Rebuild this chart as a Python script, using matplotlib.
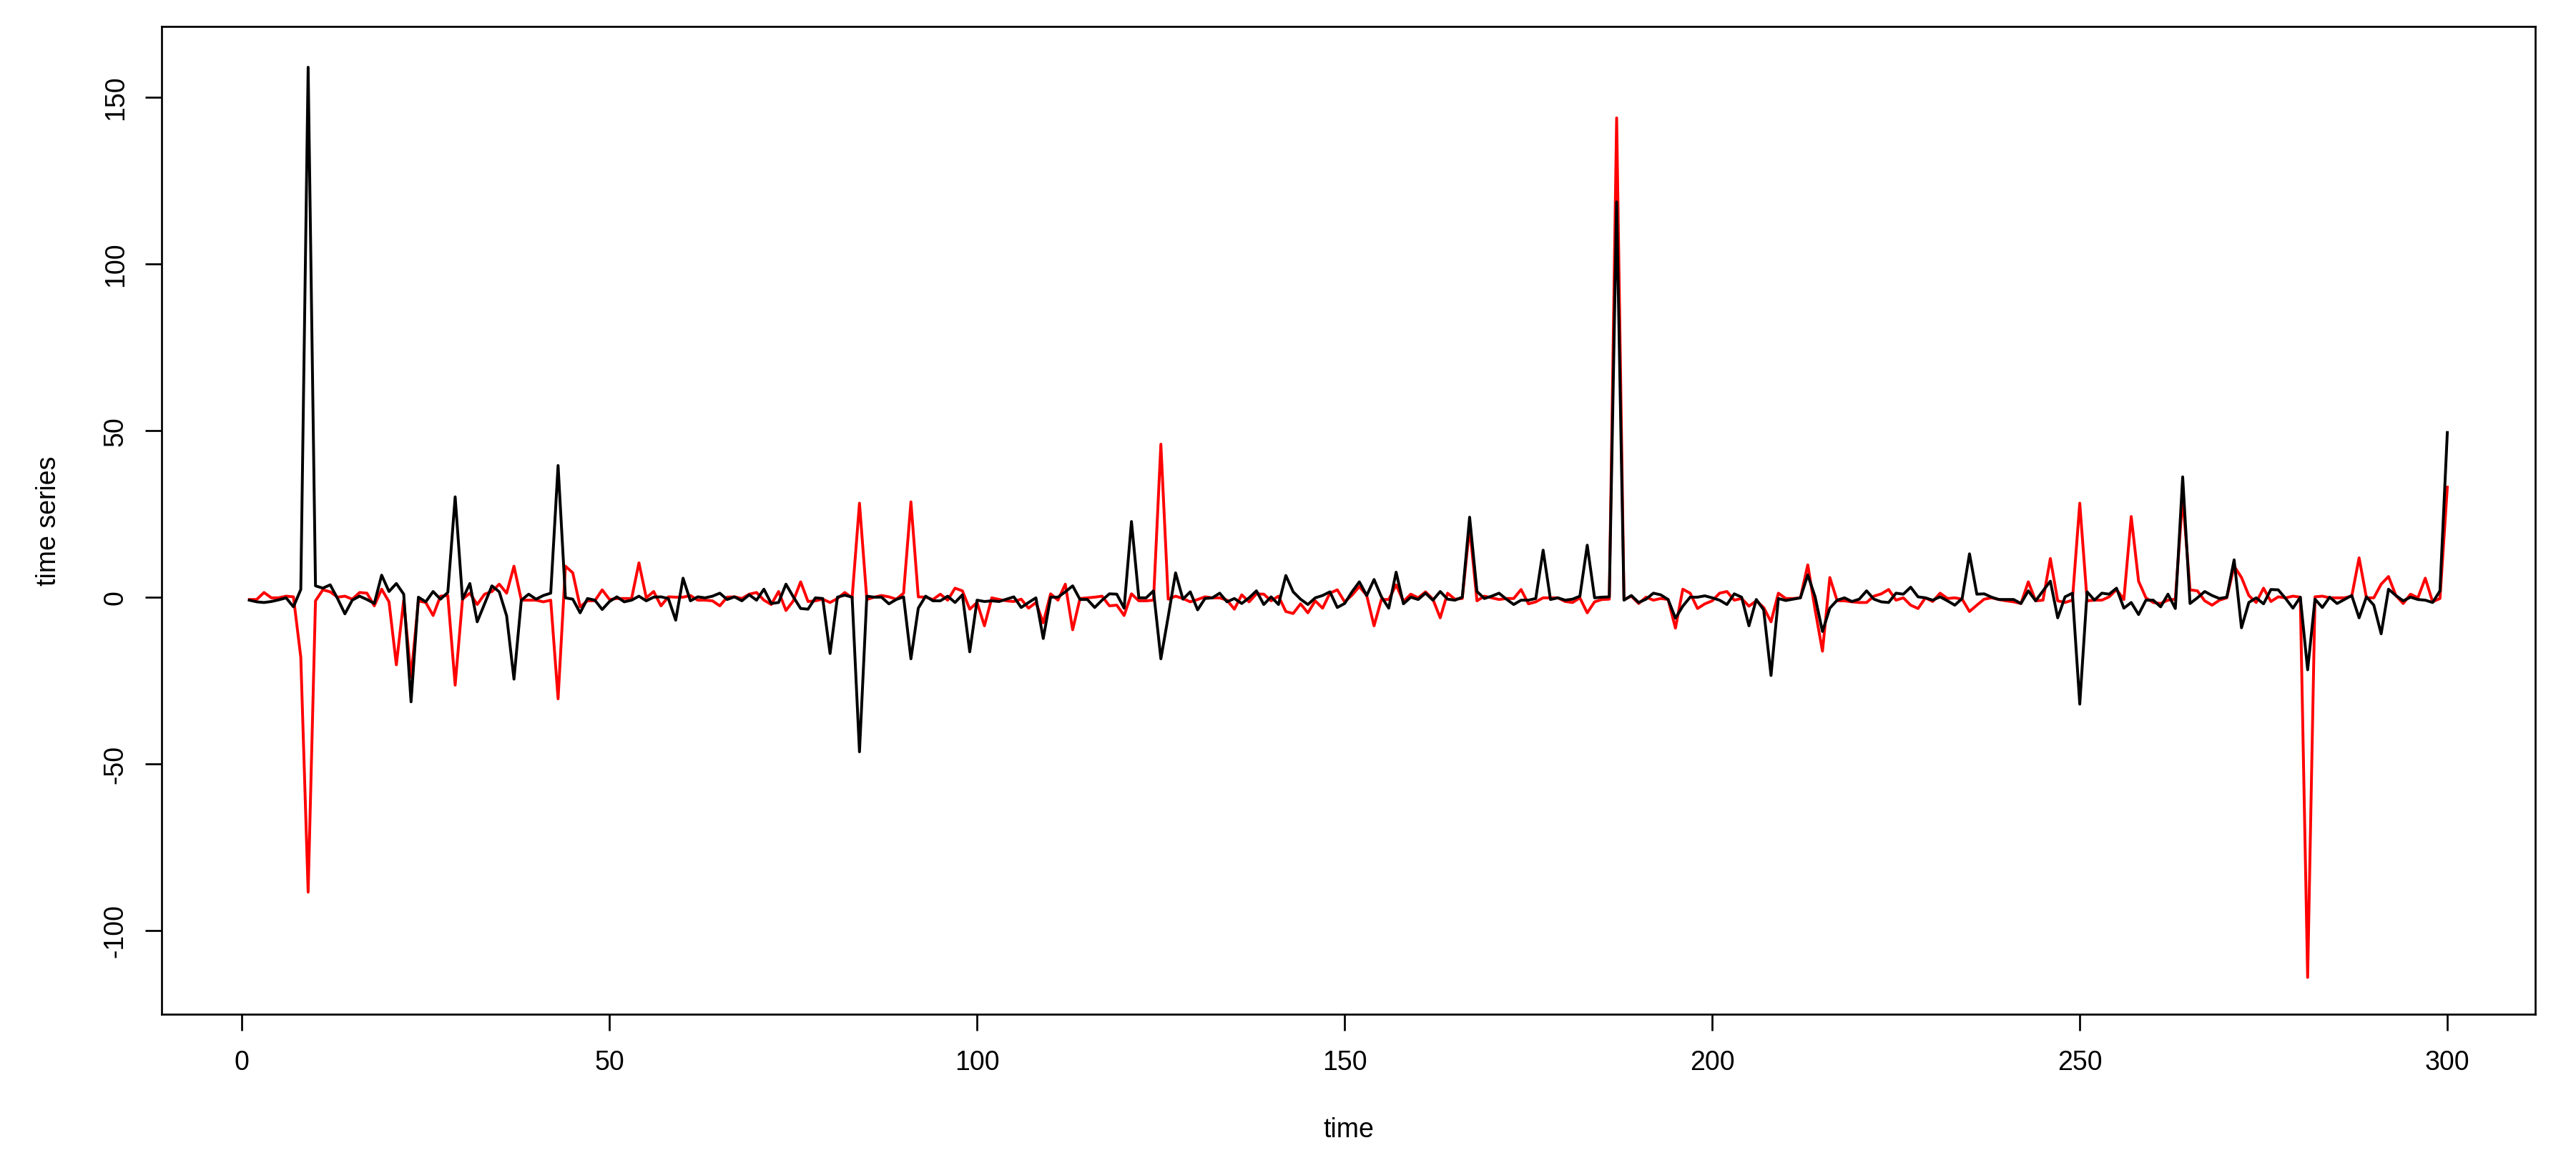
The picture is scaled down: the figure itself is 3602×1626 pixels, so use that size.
import matplotlib
matplotlib.use("Agg")
import matplotlib.pyplot as plt
import numpy as np

time = list(range(1, 301))

black_series = [
    -0.9, -1.4, -1.6, -1.3, -0.8, -0.2, -2.9, 2.3, 159.0, 3.4,
    2.7, 3.7, -0.4, -5.0, -0.9, 0.3, -0.7, -1.9, 6.6, 1.7,
    4.1, 0.9, -31.4, 0.0, -1.4, 1.7, -0.6, 1.4, 30.1, -0.6,
    4.1, -7.4, -2.0, 3.4, 1.6, -5.6, -24.6, -0.9, 0.9, -0.6,
    0.5, 1.2, 39.5, -0.2, -0.6, -4.7, -0.4, -0.9, -3.7, -1.3,
    0.1, -1.4, -0.9, 0.3, -1.1, 0.0, 0.1, -0.4, -6.9, 5.7,
    -1.1, 0.1, -0.2, 0.3, 1.2, -0.7, 0.1, -1.1, 0.7, -0.9,
    2.4, -1.9, -1.6, 3.9, 0.1, -3.4, -3.6, -0.2, -0.4, -16.9,
    0.0, 0.6, 0.0, -46.4, 0.3, 0.0, 0.0, -2.0, -0.7, 0.1,
    -18.5, -3.3, 0.3, -1.1, -1.1, 0.3, -1.6, 0.7, -16.4, -0.9,
    -1.3, -1.1, -1.3, -0.6, 0.1, -3.1, -1.6, -0.2, -12.4, 0.0,
    0.0, 1.6, 3.4, -0.7, -0.7, -3.1, -0.9, 1.0, 0.9, -3.3,
    22.7, -0.2, -0.2, 1.9, -18.5, -5.8, 7.3, -0.6, 1.6, -3.8,
    -0.4, -0.2, 1.2, -1.4, -0.4, -1.9, -0.2, 1.9, -2.2, 0.1,
    -2.2, 6.5, 1.6, -0.6, -2.2, -0.2, 0.5, 1.6, -3.1, -1.9,
    1.6, 4.6, 0.5, 5.3, 0.1, -3.3, 7.5, -2.0, 0.0, -0.7,
    1.2, -0.9, 1.7, -0.6, -0.9, 0.0, 24.0, 1.7, -0.4, 0.3,
    1.2, -0.6, -2.2, -0.9, -0.9, -0.4, 14.1, -0.7, -0.2, -0.9,
    -0.6, 0.3, 15.6, -0.2, 0.0, 0.1, 118.6, -0.9, 0.5, -1.6,
    -0.6, 1.2, 0.7, -0.7, -6.3, -2.7, 0.0, 0.0, 0.4, -0.2,
    -0.9, -2.2, 1.0, 0.0, -8.6, -0.7, -3.8, -23.5, -0.4, -1.0,
    -0.6, -0.2, 6.7, 0.1, -10.3, -3.3, -0.9, -0.2, -1.3, -0.6,
    1.9, -0.6, -1.4, -1.6, 1.2, 0.9, 3.0, 0.1, -0.2, -0.9,
    0.1, -1.1, -2.4, -0.4, 13.0, 0.9, 1.0, 0.0, -0.7, -0.7,
    -0.7, -1.9, 1.9, -1.1, 1.9, 4.8, -6.2, 0.1, 1.2, -32.1,
    1.6, -0.9, 1.2, 0.9, 2.7, -3.3, -1.6, -5.2, -0.9, -0.9,
    -2.9, 0.9, -3.4, 36.1, -1.9, -0.2, 1.7, 0.5, -0.4, 0.0,
    11.2, -9.2, -1.6, -0.2, -2.0, 2.3, 2.2, -0.4, -3.3, 0.0,
    -21.8, -0.6, -3.1, 0.0, -1.9, -0.7, 0.5, -6.2, 0.1, -2.4,
    -11.0, 2.4, 0.5, -1.1, 0.0, -0.7, -0.9, -1.6, 1.9, 49.4,
]

red_series = [
    -0.7, -0.7, 1.4, -0.2, -0.2, 0.3, 0.1, -18.0, -88.5, -1.1,
    2.2, 1.6, 0.0, 0.3, -0.6, 1.4, 1.2, -2.6, 2.4, -1.4,
    -20.3, -0.9, -24.0, -1.1, -1.6, -5.5, 0.3, 0.5, -26.4, -0.6,
    1.2, -2.2, 0.9, 1.7, 3.9, 1.2, 9.3, -0.9, -0.9, -0.9,
    -1.4, -0.9, -30.5, 9.3, 7.3, -2.9, -1.1, -1.1, 2.2, -0.7,
    -0.4, -0.4, -0.4, 10.3, -0.2, 1.7, -2.6, 0.1, 0.0, 0.0,
    0.5, -0.9, -0.9, -1.1, -2.6, 0.0, 0.1, -0.4, 0.9, 1.4,
    -0.9, -2.2, 1.7, -4.0, -1.1, 4.6, -1.3, -1.1, -0.6, -1.6,
    -0.4, 1.4, -0.2, 28.2, -0.7, 0.0, 0.5, 0.1, -0.6, 1.2,
    28.6, 0.1, 0.0, -0.7, 0.9, -0.9, 2.7, 1.9, -3.6, -1.6,
    -8.6, -0.2, -0.7, -1.1, -1.3, -0.6, -3.3, -1.6, -7.7, 1.0,
    -0.9, 3.9, -9.8, -0.4, -0.2, 0.0, 0.3, -2.6, -2.4, -5.5,
    1.0, -1.1, -1.1, -0.9, 45.9, -0.6, 0.3, -0.4, -1.4, -0.7,
    0.1, -0.2, -0.2, -0.9, -3.6, 0.7, -1.4, 1.0, 0.9, -1.1,
    0.3, -4.3, -4.9, -2.0, -4.7, -1.1, -3.3, 1.2, 2.2, -1.4,
    0.6, 3.2, 0.5, -8.6, -0.7, -0.7, 3.7, -1.3, 0.9, -0.2,
    1.6, -0.6, -6.2, 1.2, -0.6, -0.4, 21.0, -1.1, 0.3, -0.2,
    -0.7, -0.4, -0.4, 2.3, -2.0, -1.4, -0.2, -0.2, -0.2, -1.3,
    -1.6, -0.2, -4.7, -1.4, -0.7, -0.6, 143.8, -0.7, 0.3, -1.9,
    0.0, -0.9, -0.4, -0.7, -9.3, 2.4, 1.2, -3.4, -2.0, -1.1,
    1.2, 1.7, -0.9, -0.4, -2.7, -1.1, -3.1, -7.4, 1.2, -0.4,
    -0.4, -0.2, 9.7, -3.8, -16.2, 5.9, -1.1, -1.1, -1.4, -1.6,
    -1.6, 0.3, 1.0, 2.3, -0.9, -0.2, -2.4, -3.4, -0.2, -1.3,
    1.2, -0.4, -0.2, -0.6, -4.3, -2.4, -0.6, -0.2, -0.7, -1.1,
    -1.4, -1.9, 4.6, -1.1, -0.9, 11.6, -1.1, -1.6, -0.9, 28.2,
    -1.1, -0.9, -0.9, 0.1, 2.3, -0.7, 24.2, 4.8, -0.2, -1.6,
    -1.9, -0.9, -0.6, 30.0, 2.2, 1.9, -1.1, -2.4, -0.9, -0.2,
    9.3, 5.9, 0.5, -1.6, 2.7, -1.3, 0.1, -0.2, 0.3, 0.0,
    -114.1, 0.1, 0.3, -0.2, -0.2, -0.2, 0.3, 11.8, -0.2, -0.2,
    3.9, 6.2, 0.5, -1.9, 0.9, -0.2, 5.7, -1.4, -0.4, 33.0,
]

x_ticks = [0, 50, 100, 150, 200, 250, 300]
y_ticks = [-100, -50, 0, 50, 100, 150]

plt.rcParams['font.family'] = ['Liberation Sans', 'DejaVu Sans']

W, H = 3602, 1627
DPI = 300
fig = plt.figure(figsize=(W / DPI, H / DPI), dpi=DPI)
fig.patch.set_facecolor('white')

left_px, right_px = 225.7, 3545.0
bottom_px, top_px = 1419.3, 37.7
ax = fig.add_axes([left_px / W, (H - bottom_px) / H,
                   (right_px - left_px) / W, (bottom_px - top_px) / H])

ax.plot(time, red_series, color='#FF0000', lw=0.95, solid_joinstyle='round')
ax.plot(time, black_series, color='black', lw=0.95, solid_joinstyle='round')

ax.set_xlim(-10.96, 311.96)
ax.set_ylim(-125.2, 171.3)
ax.set_xticks(x_ticks)
ax.set_yticks(y_ticks)
ax.set_xticklabels([str(v) for v in x_ticks])
ax.set_yticklabels([str(v) for v in y_ticks])

for sp in ax.spines.values():
    sp.set_linewidth(0.65)
    sp.set_color('black')

ax.tick_params(axis='both', direction='out', length=5.5, width=0.65,
               labelsize=9, colors='black')
ax.tick_params(axis='x', pad=6.2)
ax.tick_params(axis='y', pad=5.5)
for lab in ax.get_yticklabels():
    lab.set_rotation(90)
    lab.set_va('center')
    lab.set_ha('right')

ax.set_xlabel('time', fontsize=9)
ax.set_ylabel('time series', fontsize=9)
ax.xaxis.set_label_coords(0.5, -0.1163)
ax.xaxis.label.set_va('center')
ax.yaxis.set_label_coords(-0.0475, 0.5)
ax.yaxis.label.set_va('center')
ax.yaxis.label.set_ha('center')

fig.savefig('out.png', dpi=DPI, facecolor='white')
